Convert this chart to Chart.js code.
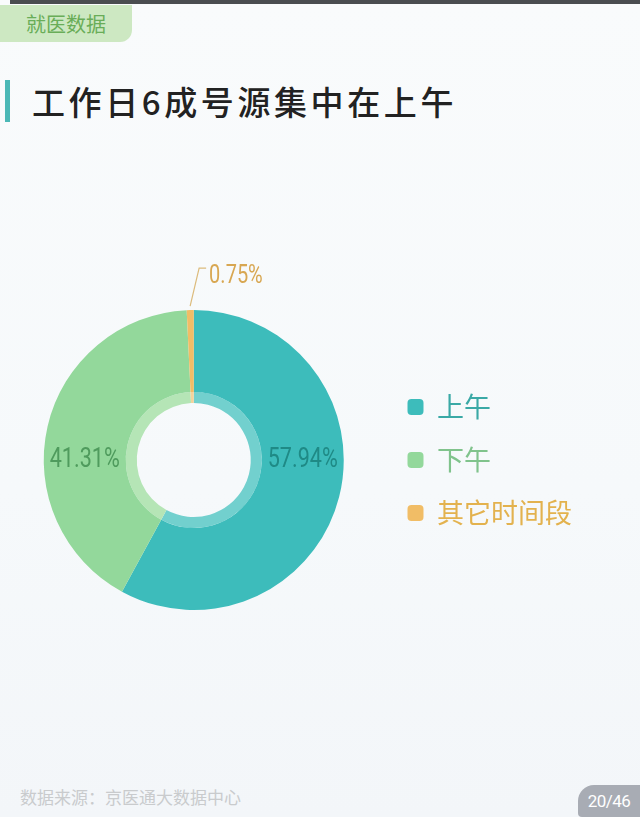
<!DOCTYPE html>
<html>
<head>
<meta charset="utf-8">
<script src="https://cdn.jsdelivr.net/npm/chart.js@4/dist/chart.umd.min.js"></script>
<style>
  html, body { margin: 0; padding: 0; }
  body {
    width: 640px; height: 817px; overflow: hidden; position: relative;
    background: linear-gradient(180deg, #f9fbfc 0%, #f6f9fb 60%, #f3f6f9 100%);
    font-family: "Noto Sans CJK SC", "Noto Sans", sans-serif;
  }
  .topbar { position: absolute; left: 10px; right: 0; top: 0; height: 4px; background: #4a4d50; }
  .tab {
    position: absolute; left: 0; top: 5px; width: 132px; height: 37px;
    background: #cde8c2; border-bottom-right-radius: 12px;
    color: #69ad58; font-size: 20px; line-height: 37px; text-align: center;
  }
  .title-bar { position: absolute; left: 5px; top: 80px; width: 5px; height: 42px; background: #4bb8b6; }
  .title {
    position: absolute; left: 32px; top: 77px; font-size: 33px; letter-spacing: 3.6px;
    color: #222; line-height: 48px; font-weight: 500;
  }
  #chartWrap { position: absolute; left: 0; top: 200px; width: 640px; height: 520px; }
  .source { position: absolute; left: 20px; top: 785px; font-size: 17px; color: #c9cbcd; line-height: 24px; }
  .page {
    position: absolute; right: 0; top: 785px; width: 62px; height: 32px;
    background: #a8acb4; border-top-left-radius: 16px; border-bottom-left-radius: 4px;
    color: #fff; font-size: 17px; line-height: 32px; text-align: center;
    font-family: Roboto, sans-serif; letter-spacing: -0.5px;
  }
</style>
</head>
<body>
<div class="topbar"></div>
<div class="tab">就医数据</div>
<div class="title-bar"></div>
<div class="title">工作日6成号源集中在上午</div>
<div id="chartWrap"><canvas id="timeDonut" width="640" height="520"></canvas></div>
<div class="source">数据来源：京医通大数据中心</div>
<div class="page">20/46</div>
<script>
// Data
const periods = ['上午', '下午', '其它时间段'];
const shares = [57.94, 41.31, 0.75];
const shareLabels = ['57.94%', '41.31%', '0.75%'];

// Styles
const sliceColors = ['#3dbcbb', '#93d89b', '#f1bd66'];
const bandColors = ['#72d0ce', '#b5e5b6', '#f4d39c'];
const legendTextColors = ['#3aa9a6', '#80c38c', '#e3b24e'];
const valueColors = ['#1f8a86', '#4f9b5d', '#d8a752'];

// condensed number text (DIN-like look)
function drawNarrow(ctx, text, x, y, align, size) {
    ctx.save();
    ctx.font = size + 'px Roboto, sans-serif';
    ctx.textAlign = align;
    ctx.textBaseline = 'middle';
    ctx.translate(x, y);
    ctx.scale(0.8, 1);
    ctx.fillText(text, 0, 0);
    ctx.restore();
}

const valueLabels = {
    id: 'valueLabels',
    afterDatasetsDraw(chart) {
        const { ctx } = chart;
        const meta = chart.getDatasetMeta(0);
        ctx.save();
        meta.data.forEach((arc, i) => {
            const { x, y, startAngle, endAngle, innerRadius, outerRadius } = arc.getProps(['x', 'y', 'startAngle', 'endAngle', 'innerRadius', 'outerRadius'], true);
            const mid = (startAngle + endAngle) / 2;
            ctx.fillStyle = valueColors[i];
            if (shares[i] < 5) {
                // leader line for the small slice
                const sx = x + Math.cos(mid) * (outerRadius + 4);
                const sy = y + Math.sin(mid) * (outerRadius + 4);
                const ex = sx + 9, ey = sy - 38;
                ctx.strokeStyle = '#dcbb7c';
                ctx.lineWidth = 1.2;
                ctx.beginPath();
                ctx.moveTo(sx, sy);
                ctx.lineTo(ex, ey);
                ctx.lineTo(ex + 7, ey);
                ctx.stroke();
                drawNarrow(ctx, shareLabels[i], ex + 10, ey + 9, 'left', 25);
            } else {
                const r = (innerRadius + outerRadius) / 2;
                const side = Math.cos(mid) >= 0 ? 1 : -1;
                drawNarrow(ctx, shareLabels[i], x + side * r, y, 'center', 27);
            }
        });
        ctx.restore();
    }
};

new Chart(document.getElementById('timeDonut'), {
    type: 'doughnut',
    data: {
        labels: periods,
        datasets: [
            { data: shares, backgroundColor: sliceColors, borderWidth: 0, hoverOffset: 0, weight: 82 },
            { data: shares, backgroundColor: bandColors, borderWidth: 0, hoverOffset: 0, weight: 11 }
        ]
    },
    options: {
        responsive: false,
        animation: false,
        devicePixelRatio: 1,
        radius: 150,
        cutout: '38%',
        layout: { padding: { left: 6, right: 58, top: 0, bottom: 0 } },
        plugins: {
            tooltip: { enabled: false },
            legend: {
                position: 'right',
                align: 'center',
                labels: {
                    boxWidth: 16,
                    boxHeight: 16,
                    padding: 26,
                    useBorderRadius: true,
                    borderRadius: 4,
                    font: { size: 27, family: '"Noto Sans CJK SC", "Noto Sans", sans-serif' },
                    generateLabels: () => periods.map((p, i) => ({
                        text: p,
                        fillStyle: sliceColors[i],
                        strokeStyle: sliceColors[i],
                        lineWidth: 0,
                        borderRadius: 4,
                        fontColor: legendTextColors[i],
                        hidden: false,
                        index: i
                    }))
                }
            }
        }
    },
    plugins: [valueLabels]
});
</script>
</body>
</html>
